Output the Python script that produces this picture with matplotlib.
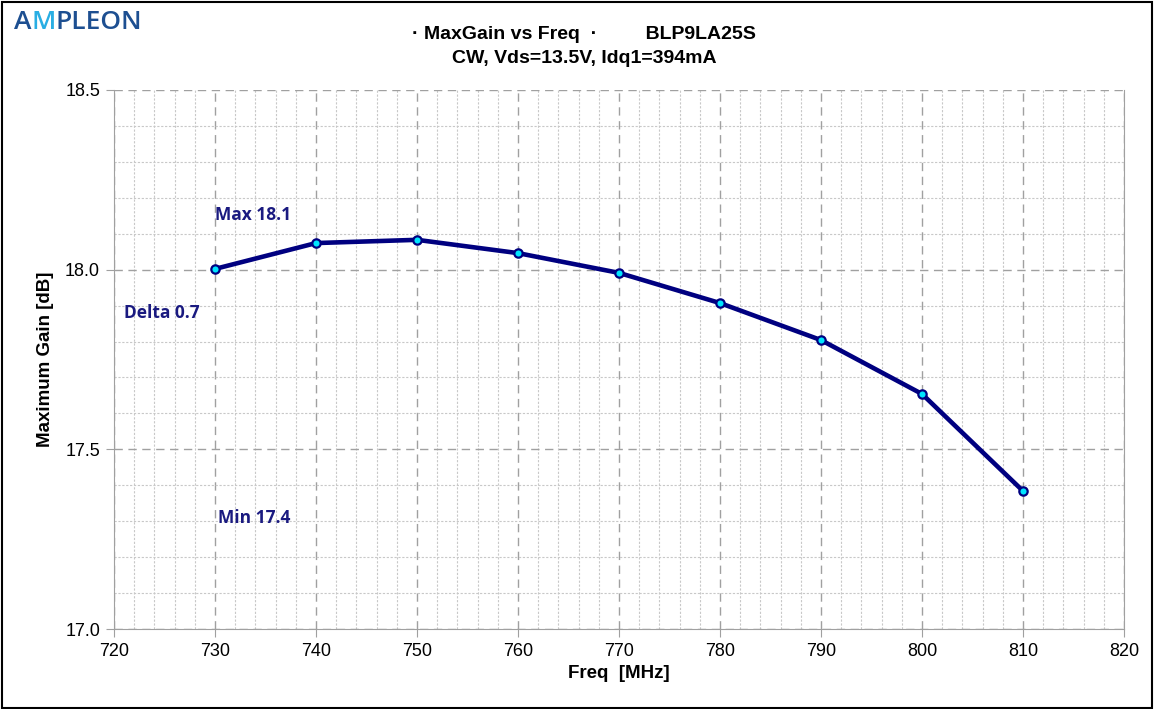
import matplotlib
matplotlib.use("Agg")
import matplotlib.pyplot as plt
from matplotlib.ticker import MultipleLocator
from matplotlib.patches import Rectangle

freq = [730, 740, 750, 760, 770, 780, 790, 800, 810]
gain = [18.002, 18.074, 18.083, 18.046, 17.991, 17.907, 17.804, 17.654, 17.384]
title_lines = ["\u00b7 MaxGain vs Freq  \u00b7         BLP9LA25S", "CW, Vds=13.5V, Idq1=394mA"]
annotations = [("Max 18.1", 730.0, 18.152), ("Delta 0.7", 721.0, 17.879), ("Min 17.4", 730.3, 17.309)]

plt.rcParams['font.family'] = ['Liberation Sans', 'DejaVu Sans']
fig = plt.figure(figsize=(11.55, 7.09), dpi=100)
fig.patch.set_facecolor('white')
ax = fig.add_axes([0.0987, 0.1128, 0.8745, 0.7603])

ax.set_xlim(720, 820)
ax.set_ylim(17.0, 18.5)
ax.xaxis.set_major_locator(MultipleLocator(10))
ax.xaxis.set_minor_locator(MultipleLocator(2))
ax.yaxis.set_major_locator(MultipleLocator(0.5))
ax.yaxis.set_minor_locator(MultipleLocator(0.1))
ax.grid(which='minor', color='#c8c8c8', linestyle=(0, (2, 1.5)), linewidth=0.8)
ax.grid(which='major', color='#a0a0a0', linestyle=(0, (6, 4)), linewidth=1.0)
ax.set_axisbelow(True)
for s in ax.spines.values():
    s.set_color('#a0a0a0')
ax.spines['top'].set_visible(False)
ax.tick_params(which='major', direction='out', length=6, color='#a0a0a0', labelsize=13, pad=4)
ax.tick_params(which='minor', length=0)
ax.yaxis.set_major_formatter(matplotlib.ticker.FormatStrFormatter('%.1f'))

ax.plot(freq, gain, color='#000080', linewidth=3.3, marker='o', markersize=6,
        markerfacecolor='#00e5ff', markeredgecolor='#000080', markeredgewidth=1.6, zorder=5)

for txt, x, y in annotations:
    ax.text(x, y, txt, color='#1a1a80', fontsize=12.5, fontweight='bold',
            family=['Open Sans', 'DejaVu Sans'], ha='left', va='center', zorder=6)

ax.set_xlabel("Freq  [MHz]", fontsize=13.5, fontweight='bold', labelpad=4)
ax.set_ylabel("Maximum Gain [dB]", fontsize=13.5, fontweight='bold', labelpad=8)

fig.text(0.506, 0.951, title_lines[0], ha='center', va='center', fontsize=14, fontweight='bold')
fig.text(0.506, 0.918, title_lines[1], ha='center', va='center', fontsize=14, fontweight='bold')

# logo
dark = '#1d4f91'
light = '#29aee3'
x0 = 0.012
y0 = 0.968
lf = dict(fontsize=19, family=['Open Sans', 'DejaVu Sans'], fontweight='semibold', va='center')
t = fig.text(x0, y0, "A", color=dark, **lf)
fig.canvas.draw()
r = fig.canvas.get_renderer()
bb = t.get_window_extent(r)
x1 = bb.x1 / fig.bbox.width
t2 = fig.text(x1, y0, "M", color=light, **lf)
bb2 = t2.get_window_extent(r)
x2 = bb2.x1 / fig.bbox.width
fig.text(x2, y0, "PLEON", color=dark, **lf)

fig.add_artist(Rectangle((0.0015, 0.002), 0.996, 0.995, transform=fig.transFigure,
                         fill=False, edgecolor='black', linewidth=1.5))

fig.savefig("out.png", dpi=100, facecolor='white')
